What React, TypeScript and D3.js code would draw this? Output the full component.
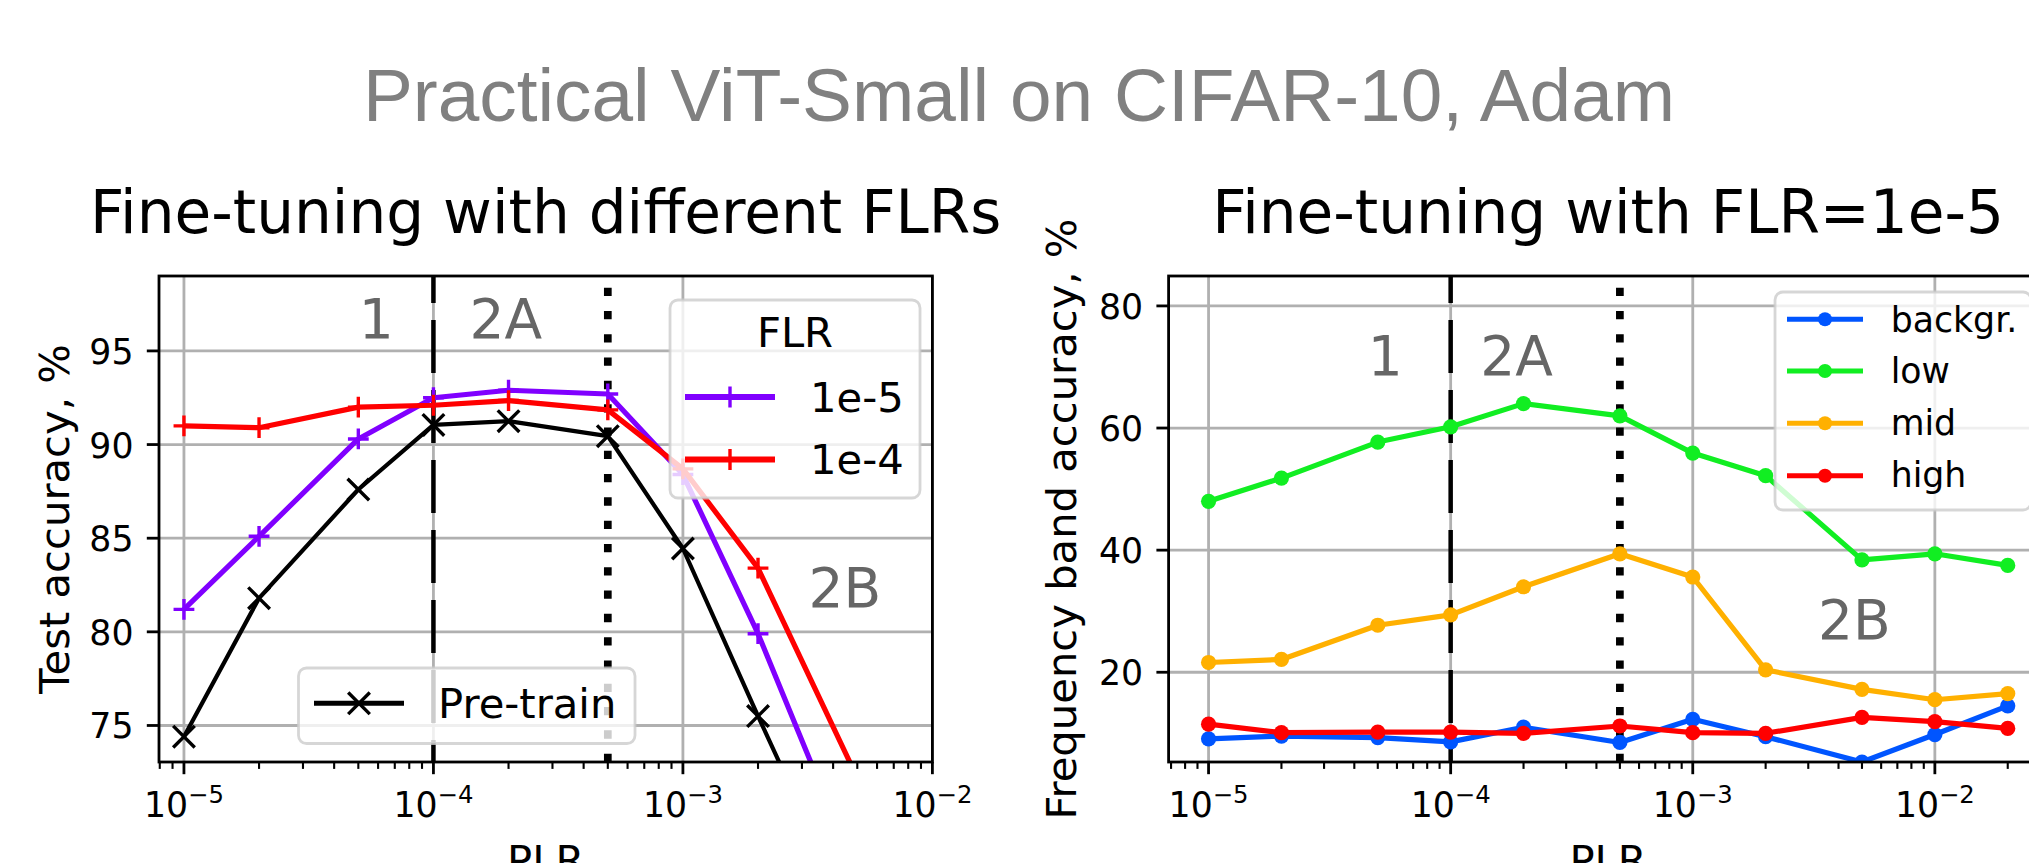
import React from 'react';
import * as d3 from 'd3';

// Peak learning rates (PLR) swept in both experiments
const PLR = [1e-5, 2e-5, 5e-5, 1e-4, 2e-4, 5e-4, 1e-3, 2e-3, 5e-3, 1e-2, 2e-2];

// Left panel: test accuracy (%) after fine-tuning, per fine-tuning LR
const FT_FLR_1E5 = [81.2, 85.1, 90.3, 92.5, 92.9, 92.7, 88.4, 79.9, 67.0];
const FT_FLR_1E4 = [91.0, 90.9, 92.0, 92.1, 92.35, 91.85, 88.7, 83.4, 72.2];
const PRETRAIN = [74.4, 81.8, 87.6, 91.05, 91.25, 90.45, 84.45, 75.5, 64.0];

// Right panel: frequency band accuracy (%) with FLR = 1e-5
const BAND_BACKGR = [9.1, 9.55, 9.3, 8.6, 11.0, 8.5, 12.3, 9.45, 5.3, 9.8, 14.5];
const BAND_LOW = [48.0, 51.8, 57.7, 60.2, 64.0, 62.0, 55.9, 52.2, 38.4, 39.4, 37.5];
const BAND_MID = [21.6, 22.1, 27.7, 29.4, 34.0, 39.4, 35.6, 20.4, 17.2, 15.5, 16.5];
const BAND_HIGH = [11.5, 10.1, 10.2, 10.2, 10.0, 11.2, 10.1, 10.0, 12.6, 11.9, 10.8];

const LEFT_Y_TICKS = [75, 80, 85, 90, 95];
const RIGHT_Y_TICKS = [20, 40, 60, 80];
const DECADE_TICKS = [1e-5, 1e-4, 1e-3, 1e-2];
const DECADE_LABELS = ['\u22125', '\u22124', '\u22123', '\u22122'];
const BOUNDARY_DASHED = 1e-4;
const BOUNDARY_DOTTED = 5e-4;

const LEFT_REGIONS = [
  { text: '1', x: 5.9e-5, y: 95.7 },
  { text: '2A', x: 1.95e-4, y: 95.7 },
  { text: '2B', x: 4.46e-3, y: 81.35 },
];
const RIGHT_REGIONS = [
  { text: '1', x: 5.37e-5, y: 68.7 },
  { text: '2A', x: 1.87e-4, y: 68.7 },
  { text: '2B', x: 4.65e-3, y: 25.4 },
];

const W = 2029;
const H = 863;
const FONT = '"DejaVu Sans", sans-serif';
const TICK_FS = 34.7;
const LABEL_FS = 41.7;
const TITLE_FS = 59.7;
const GRID = '#b0b0b0';

const C_PURPLE = '#8000ff';
const C_RED = '#ff0000';
const C_BLUE = '#0055ff';
const C_GREEN = '#11ee22';
const C_ORANGE = '#ffb000';

type Frame = { x0: number; x1: number; y0: number; y1: number };
const LEFT_FRAME: Frame = { x0: 159, x1: 932.4, y0: 276, y1: 762 };
const RIGHT_FRAME: Frame = { x0: 1168.6, x1: 2047.7, y0: 276, y1: 762 };

// left x range is fixed; right x range uses a 5% margin in log space
const leftX = d3.scaleLog().domain([Math.pow(10, -5.1), 1e-2]).range([LEFT_FRAME.x0, LEFT_FRAME.x1]);
const lgLo = Math.log10(PLR[0]);
const lgHi = Math.log10(PLR[PLR.length - 1]);
const lgPad = 0.05 * (lgHi - lgLo);
const rightX = d3
  .scaleLog()
  .domain([Math.pow(10, lgLo - lgPad), Math.pow(10, lgHi + lgPad)])
  .range([RIGHT_FRAME.x0, RIGHT_FRAME.x1]);
const leftY = d3.scaleLinear().domain([73.05, 99]).range([LEFT_FRAME.y1, LEFT_FRAME.y0]);
const rightY = d3.scaleLinear().domain([5.3, 84.9]).range([RIGHT_FRAME.y1, RIGHT_FRAME.y0]);

function minorTicks(scale: d3.ScaleLogarithmic<number, number>): number[] {
  const [lo, hi] = scale.domain();
  const out: number[] = [];
  for (let e = Math.floor(Math.log10(lo)); e <= Math.ceil(Math.log10(hi)); e++) {
    for (let m = 2; m <= 9; m++) {
      const v = m * Math.pow(10, e);
      if (v >= lo && v <= hi) out.push(v);
    }
  }
  return out;
}

type AxesProps = {
  id: string;
  frame: Frame;
  x: d3.ScaleLogarithmic<number, number>;
  y: d3.ScaleLinear<number, number>;
  yTicks: number[];
  title: string;
  yLabel: string;
  yLabelX: number;
  regions: { text: string; x: number; y: number }[];
  children: React.ReactNode;
};

function Axes({ id, frame, x, y, yTicks, title, yLabel, yLabelX, regions, children }: AxesProps) {
  const { x0, x1, y0, y1 } = frame;
  const [dlo, dhi] = x.domain();
  const majors = DECADE_TICKS.map((v, i) => ({ v, label: DECADE_LABELS[i] })).filter(
    (t) => t.v >= dlo * 0.999 && t.v <= dhi * 1.001
  );
  const minors = minorTicks(x);
  const cx = (x0 + x1) / 2;
  const cy = (y0 + y1) / 2;
  return (
    <g>
      <defs>
        <clipPath id={id}>
          <rect x={x0} y={y0} width={x1 - x0} height={y1 - y0} />
        </clipPath>
      </defs>
      {/* grid */}
      <g stroke={GRID} strokeWidth={2.8}>
        {majors.map((t) => (
          <line key={'gx' + t.v} x1={x(t.v)} x2={x(t.v)} y1={y0} y2={y1} />
        ))}
        {yTicks.map((t) => (
          <line key={'gy' + t} x1={x0} x2={x1} y1={y(t)} y2={y(t)} />
        ))}
      </g>
      {/* phase boundaries */}
      <line
        x1={x(BOUNDARY_DASHED)}
        x2={x(BOUNDARY_DASHED)}
        y1={y0}
        y2={y1}
        stroke="#000"
        strokeWidth={4.5}
        strokeDasharray="53 17"
        strokeDashoffset={26}
      />
      <line
        x1={x(BOUNDARY_DOTTED)}
        x2={x(BOUNDARY_DOTTED)}
        y1={y0}
        y2={y1}
        stroke="#000"
        strokeWidth={7.7}
        strokeDasharray="8.3 15"
        strokeDashoffset={11.65}
      />
      {regions.map((r) => (
        <text
          key={r.text}
          x={x(r.x)}
          y={y(r.y)}
          textAnchor="middle"
          fontFamily={FONT}
          fontSize={55}
          fill="#666666"
        >
          {r.text}
        </text>
      ))}
      <g clipPath={`url(#${id})`}>{children}</g>
      {/* spines */}
      <rect x={x0} y={y0} width={x1 - x0} height={y1 - y0} fill="none" stroke="#000" strokeWidth={2.8} />
      {/* ticks */}
      <g stroke="#000">
        {majors.map((t) => (
          <line key={'tx' + t.v} x1={x(t.v)} x2={x(t.v)} y1={y1} y2={y1 + 12.2} strokeWidth={2.8} />
        ))}
        {minors.map((v) => (
          <line key={'mx' + v} x1={x(v)} x2={x(v)} y1={y1} y2={y1 + 6.9} strokeWidth={2.1} />
        ))}
        {yTicks.map((t) => (
          <line key={'ty' + t} x1={x0 - 12.2} x2={x0} y1={y(t)} y2={y(t)} strokeWidth={2.8} />
        ))}
      </g>
      <g fontFamily={FONT} fill="#000">
        {majors.map((t) => (
          <text key={'lx' + t.v} x={x(t.v)} y={y1 + 54.7} fontSize={TICK_FS} textAnchor="middle">
            10
            <tspan fontSize={24.3} dy={-13.7}>
              {t.label}
            </tspan>
          </text>
        ))}
        {yTicks.map((t) => (
          <text key={'ly' + t} x={x0 - 25.5} y={y(t) + 13} fontSize={TICK_FS} textAnchor="end">
            {t}
          </text>
        ))}
        <text x={cx} y={y1 + 112.6} fontSize={LABEL_FS} textAnchor="middle">
          PLR
        </text>
        <text
          transform={`translate(${yLabelX},${cy}) rotate(-90)`}
          fontSize={LABEL_FS}
          textAnchor="middle"
        >
          {yLabel}
        </text>
        <text x={cx} y={233.3} fontSize={TITLE_FS} textAnchor="middle">
          {title}
        </text>
      </g>
    </g>
  );
}

function plusPath(px: number, py: number, s: number) {
  return `M${px - s},${py}H${px + s}M${px},${py - s}V${py + s}`;
}
function crossPath(px: number, py: number, s: number) {
  return `M${px - s},${py - s}L${px + s},${py + s}M${px - s},${py + s}L${px + s},${py - s}`;
}

type Series = { values: number[]; color: string; width: number };

function MarkerLine({
  xs,
  series,
  x,
  y,
  marker,
}: {
  xs: number[];
  series: Series;
  x: d3.ScaleLogarithmic<number, number>;
  y: d3.ScaleLinear<number, number>;
  marker: 'plus' | 'cross' | 'dot';
}) {
  const pts = series.values.map((v, i) => [x(xs[i]), y(v)] as [number, number]);
  const line = d3.line()(pts) || '';
  return (
    <g>
      <path d={line} fill="none" stroke={series.color} strokeWidth={series.width} strokeLinejoin="round" />
      {pts.map(([px, py], i) =>
        marker === 'dot' ? (
          <circle key={i} cx={px} cy={py} r={7.6} fill={series.color} />
        ) : (
          <path
            key={i}
            d={marker === 'plus' ? plusPath(px, py, 10.4) : crossPath(px, py, 10.8)}
            stroke={series.color}
            strokeWidth={3.4}
            fill="none"
          />
        )
      )}
    </g>
  );
}

function LegendBox({ x, y, w, h }: { x: number; y: number; w: number; h: number }) {
  return (
    <rect
      x={x}
      y={y}
      width={w}
      height={h}
      rx={8}
      ry={8}
      fill="#ffffff"
      fillOpacity={0.8}
      stroke="#cccccc"
      strokeOpacity={0.8}
      strokeWidth={2.8}
    />
  );
}

export default function App() {
  const leftXs = PLR.slice(0, FT_FLR_1E5.length);
  const flrEntries = [
    { label: '1e-5', color: C_PURPLE, hy: 397, ty: 411.7 },
    { label: '1e-4', color: C_RED, hy: 459.5, ty: 474.3 },
  ];
  const bandEntries = [
    { label: 'backgr.', color: C_BLUE, hy: 319.3, ty: 331.7 },
    { label: 'low', color: C_GREEN, hy: 371, ty: 383.3 },
    { label: 'mid', color: C_ORANGE, hy: 423.3, ty: 435 },
    { label: 'high', color: C_RED, hy: 475.7, ty: 486.7 },
  ];
  return (
    <svg
      width={W}
      height={H}
      viewBox={`0 0 ${W} ${H}`}
      style={{ position: 'absolute', left: 0, top: 0, background: '#fff' }}
    >
      <rect x={0} y={0} width={W} height={H} fill="#fff" />
      <text
        x={1019}
        y={120.7}
        textAnchor="middle"
        fontFamily={'"Liberation Sans", Arial, sans-serif'}
        fontSize={74.8}
        fill="#808080"
      >
        Practical ViT-Small on CIFAR-10, Adam
      </text>

      <Axes
        id="clip-left"
        frame={LEFT_FRAME}
        x={leftX}
        y={leftY}
        yTicks={LEFT_Y_TICKS}
        title="Fine-tuning with different FLRs"
        yLabel="Test accuracy, %"
        yLabelX={68.7}
        regions={LEFT_REGIONS}
      >
        <MarkerLine xs={leftXs} series={{ values: FT_FLR_1E5, color: C_PURPLE, width: 5.2 }} x={leftX} y={leftY} marker="plus" />
        <MarkerLine xs={leftXs} series={{ values: FT_FLR_1E4, color: C_RED, width: 5.2 }} x={leftX} y={leftY} marker="plus" />
        <MarkerLine xs={leftXs} series={{ values: PRETRAIN, color: '#000', width: 4.2 }} x={leftX} y={leftY} marker="cross" />
      </Axes>

      <Axes
        id="clip-right"
        frame={RIGHT_FRAME}
        x={rightX}
        y={rightY}
        yTicks={RIGHT_Y_TICKS}
        title="Fine-tuning with FLR=1e-5"
        yLabel="Frequency band accuracy, %"
        yLabelX={1076}
        regions={RIGHT_REGIONS}
      >
        <MarkerLine xs={PLR} series={{ values: BAND_BACKGR, color: C_BLUE, width: 5.2 }} x={rightX} y={rightY} marker="dot" />
        <MarkerLine xs={PLR} series={{ values: BAND_LOW, color: C_GREEN, width: 5.2 }} x={rightX} y={rightY} marker="dot" />
        <MarkerLine xs={PLR} series={{ values: BAND_MID, color: C_ORANGE, width: 5.2 }} x={rightX} y={rightY} marker="dot" />
        <MarkerLine xs={PLR} series={{ values: BAND_HIGH, color: C_RED, width: 5.2 }} x={rightX} y={rightY} marker="dot" />
      </Axes>

      {/* FLR legend */}
      <g fontFamily={FONT} fontSize={LABEL_FS}>
        <LegendBox x={670} y={300} w={250} h={198} />
        <text x={795} y={347} textAnchor="middle">
          FLR
        </text>
        {flrEntries.map((e) => (
          <g key={e.label}>
            <line x1={685} x2={775} y1={e.hy} y2={e.hy} stroke={e.color} strokeWidth={6} />
            <path d={plusPath(730, e.hy, 10.4)} stroke={e.color} strokeWidth={3.4} />
            <text x={810} y={e.ty}>
              {e.label}
            </text>
          </g>
        ))}
      </g>

      {/* Pre-train legend */}
      <g fontFamily={FONT} fontSize={LABEL_FS}>
        <LegendBox x={298.5} y={668} w={336.5} h={75.5} />
        <line x1={314} x2={404} y1={703.3} y2={703.3} stroke="#000" strokeWidth={5} />
        <path d={crossPath(359, 703.3, 10.8)} stroke="#000" strokeWidth={3.4} />
        <text x={438} y={718}>
          Pre-train
        </text>
      </g>

      {/* band legend */}
      <g fontFamily={FONT} fontSize={TICK_FS}>
        <LegendBox x={1775} y={292} w={256} h={218} />
        {bandEntries.map((e) => (
          <g key={e.label}>
            <line x1={1787} x2={1863} y1={e.hy} y2={e.hy} stroke={e.color} strokeWidth={5} />
            <circle cx={1825} cy={e.hy} r={7} fill={e.color} />
            <text x={1890.7} y={e.ty}>
              {e.label}
            </text>
          </g>
        ))}
      </g>
    </svg>
  );
}
